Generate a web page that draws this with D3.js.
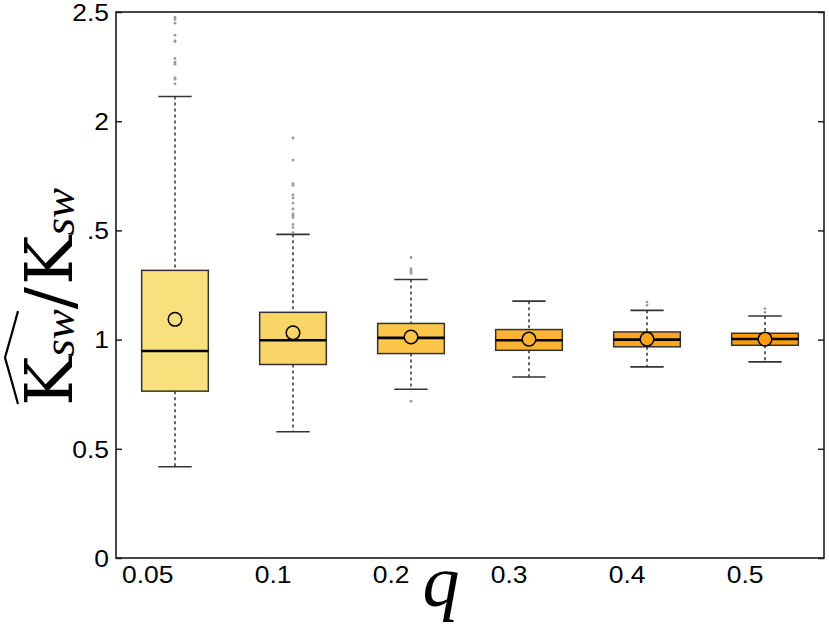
<!DOCTYPE html>
<html>
<head>
<meta charset="utf-8">
<script src="https://cdn.jsdelivr.net/npm/d3@7"></script>
<style>
  body { margin: 0; background: #fff; }
  svg { display: block; }
</style>
</head>
<body>
<div id="chart"></div>
<script>
// box statistics, one entry per q
const categories = ["0.05", "0.1", "0.2", "0.3", "0.4", "0.5"];
const whiskerLow  = [0.418, 0.578, 0.773, 0.829, 0.875, 0.898];
const q1          = [0.764, 0.886, 0.936, 0.951, 0.967, 0.974];
const medians     = [0.948, 0.997, 1.008, 0.997, 1.000, 1.003];
const q3          = [1.317, 1.125, 1.074, 1.046, 1.035, 1.029];
const whiskerHigh = [2.113, 1.482, 1.275, 1.176, 1.134, 1.108];
const means       = [1.093, 1.031, 1.012, 1.002, 1.002, 1.002];
const outliers = [
  [2.476, 2.466, 2.449, 2.394, 2.368, 2.364, 2.287, 2.270, 2.261, 2.199, 2.192, 2.171],
  [1.923, 1.822, 1.714, 1.706, 1.662, 1.648, 1.625, 1.598, 1.575, 1.568, 1.559, 1.527, 1.513, 1.490],
  [1.376, 1.325, 1.317, 1.310, 1.303, 0.718],
  [],
  [1.172, 1.157],
  [1.142, 1.125]
];
const fills = ["#f8e07d", "#f9d466", "#fbc64a", "#fcb430", "#fda51e", "#fe9b10"];

const yTicks = [0, 0.5, 1, 1.5, 2, 2.5];
const yTickLabels = ["0", "0.5", "1", ".5", "2", "2.5"];

const width = 829, height = 634;
const margin = {top: 12, right: 5, bottom: 76, left: 116};

const svg = d3.select("#chart").append("svg")
    .attr("width", width)
    .attr("height", height)
    .attr("font-family", "'Liberation Sans', Arial, sans-serif");

const x = d3.scalePoint()
    .domain(categories)
    .range([margin.left, width - margin.right])
    .padding(0.5);
const y = d3.scaleLinear()
    .domain([0, 2.5])
    .range([height - margin.bottom, margin.top]);

const boxW = x.step() * 0.565;
const capW = boxW / 2;
const stretch = 1.15; // tick labels in the figure are wider than plain Arial

// y axis, ticks pointing inwards
const yAxis = svg.append("g")
    .attr("transform", `translate(${margin.left},0)`)
    .call(d3.axisLeft(y).tickValues(yTicks).tickSize(-6).tickPadding(7)
      .tickFormat((d, i) => yTickLabels[i]));
yAxis.select(".domain").remove();
yAxis.selectAll(".tick line").attr("stroke", "#222").attr("stroke-width", 1.5);
yAxis.selectAll(".tick text")
    .attr("font-size", 23)
    .attr("fill", "#000")
    .attr("x", -7 / stretch)
    .attr("dy", "0.36em")
    .attr("transform", `scale(${stretch},1)`);

const yAxisR = svg.append("g")
    .attr("transform", `translate(${width - margin.right},0)`)
    .call(d3.axisRight(y).tickValues(yTicks).tickSize(-6).tickFormat(""));
yAxisR.select(".domain").remove();
yAxisR.selectAll(".tick line").attr("stroke", "#222").attr("stroke-width", 1.5);

// x tick labels, no tick marks
const xAxis = svg.append("g")
    .attr("transform", `translate(0,${height - margin.bottom})`)
    .call(d3.axisBottom(x).tickSize(0).tickPadding(9));
xAxis.select(".domain").remove();
xAxis.selectAll(".tick text")
    .attr("font-size", 23)
    .attr("fill", "#000")
    .attr("text-anchor", "end")
    .attr("x", -2 / stretch)
    .attr("transform", `scale(${stretch},1)`);

// frame
svg.append("rect")
    .attr("x", margin.left)
    .attr("y", margin.top)
    .attr("width", width - margin.right - margin.left)
    .attr("height", height - margin.bottom - margin.top)
    .attr("fill", "none")
    .attr("stroke", "#1a1a1a")
    .attr("stroke-width", 1.6);

const groups = svg.append("g").selectAll("g")
  .data(categories)
  .join("g")
    .attr("transform", d => `translate(${x(d)},0)`);

// dotted whiskers
groups.append("line")
    .attr("y1", (d, i) => y(whiskerHigh[i]))
    .attr("y2", (d, i) => y(q3[i]))
    .attr("stroke", "#333").attr("stroke-width", 1.5).attr("stroke-dasharray", "3,3");
groups.append("line")
    .attr("y1", (d, i) => y(q1[i]))
    .attr("y2", (d, i) => y(whiskerLow[i]))
    .attr("stroke", "#333").attr("stroke-width", 1.5).attr("stroke-dasharray", "3,3");

// whisker caps
groups.append("line")
    .attr("x1", -capW / 2).attr("x2", capW / 2)
    .attr("y1", (d, i) => y(whiskerHigh[i])).attr("y2", (d, i) => y(whiskerHigh[i]))
    .attr("stroke", "#333").attr("stroke-width", 1.6);
groups.append("line")
    .attr("x1", -capW / 2).attr("x2", capW / 2)
    .attr("y1", (d, i) => y(whiskerLow[i])).attr("y2", (d, i) => y(whiskerLow[i]))
    .attr("stroke", "#333").attr("stroke-width", 1.6);

// outliers
groups.selectAll("circle.out")
  .data((d, i) => outliers[i])
  .join("circle")
    .attr("class", "out")
    .attr("cy", v => y(v))
    .attr("r", 1.4)
    .attr("fill", "#9a9a9a");

// boxes
groups.append("rect")
    .attr("x", -boxW / 2)
    .attr("width", boxW)
    .attr("y", (d, i) => y(q3[i]))
    .attr("height", (d, i) => y(q1[i]) - y(q3[i]))
    .attr("fill", (d, i) => fills[i])
    .attr("stroke", "#333")
    .attr("stroke-width", 1.5);

// medians
groups.append("line")
    .attr("x1", -boxW / 2).attr("x2", boxW / 2)
    .attr("y1", (d, i) => y(medians[i])).attr("y2", (d, i) => y(medians[i]))
    .attr("stroke", "#000").attr("stroke-width", 2.6);

// means
groups.append("circle")
    .attr("cy", (d, i) => y(means[i]))
    .attr("r", 6.8)
    .attr("fill", (d, i) => fills[i])
    .attr("stroke", "#000")
    .attr("stroke-width", 1.5);

// x label
svg.append("text")
    .attr("x", 441)
    .attr("y", 606)
    .attr("text-anchor", "middle")
    .attr("font-family", "'Liberation Serif', 'Times New Roman', serif")
    .attr("font-style", "italic")
    .attr("font-size", 74)
    .text("q");

// y label: hat(K_sw) / K_sw, written bottom to top
const ylab = svg.append("g")
    .attr("transform", "translate(72,406) rotate(-90)");
const pieces = [
  {t: "K", big: true},
  {t: "sw", big: false},
  {t: "/", big: true},
  {t: "K", big: true},
  {t: "sw", big: false}
];
let cursor = 0;
const starts = [];
pieces.forEach(p => {
  const el = ylab.append("text")
      .attr("x", cursor)
      .attr("y", p.big ? 0 : 2)
      .attr("font-family", p.big ? "'DejaVu Serif', serif" : "'Liberation Serif', serif")
      .attr("font-style", p.big ? "normal" : "italic")
      .attr("font-size", p.big ? 66 : 45)
      .text(p.t);
  starts.push(cursor);
  cursor += el.node().getComputedTextLength() + (p.t === "/" ? 2 : 0);
});
const hatEnd = starts[2];
ylab.append("path")
    .attr("d", `M2,-54 Q${hatEnd * 0.25},-60 ${hatEnd / 2},-67 Q${hatEnd * 0.75},-60 ${hatEnd - 2},-54`)
    .attr("fill", "none")
    .attr("stroke", "#000")
    .attr("stroke-width", 2.2);
</script>
</body>
</html>
